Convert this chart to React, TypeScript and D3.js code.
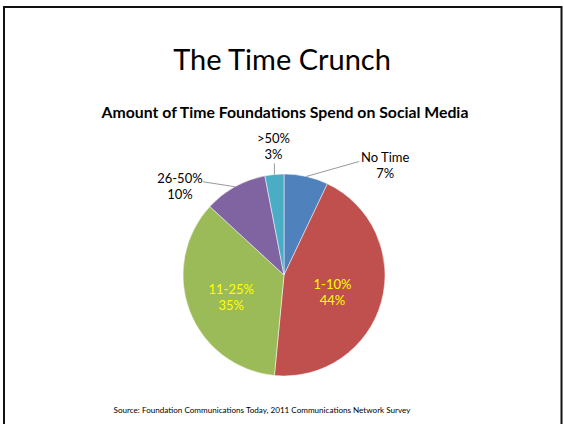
import React from "react";
import * as d3 from "d3";

const categories = ["No Time", "1-10%", "11-25%", "26-50%", ">50%"];
const values = [7, 44, 35, 10, 3];
const colors = ["#4F81BD", "#C0504D", "#9BBB59", "#8064A2", "#4BACC6"];
const insideLabels = ["1-10%", "11-25%"];

const W = 564;
const H = 424;
const CX = 284;
const CY = 275;
const R = 101;
const FONT = "Lato, 'Open Sans', sans-serif";

// label placement (relative to the slice edge point at mid angle)
const outsideLayout: Record<string, { ex: number; ey: number; tx: number; ty: number }> = {
  "No Time": { ex: 53, ey: -15, tx: 79, ty: -14.5 },
  "26-50%": { ex: -32, ey: -5, tx: -55, ty: -4 },
  ">50%": { ex: 0, ey: -11, tx: -1, ty: -31.5 },
};
const insideNudge: Record<string, number> = { "1-10%": -6, "11-25%": 0 };

export default function App() {
  const data = categories.map((c, i) => ({ cat: c, value: values[i], color: colors[i] }));
  const pie = d3
    .pie<any>()
    .sort(null)
    .value((d) => d.value)
    .startAngle(0)
    .endAngle(2 * Math.PI);
  const arcs = pie(data);
  const arc = d3.arc<any>().innerRadius(0).outerRadius(R);
  const innerArc = d3.arc<any>().innerRadius(R * 0.56).outerRadius(R * 0.56);
  const pct = (v: number) => `${v}%`;

  return (
    <svg
      width={W}
      height={H}
      style={{ position: "absolute", left: 0, top: 0, background: "#fff" }}
      fontFamily={FONT}
    >
      <rect x={0} y={0} width={W} height={H} fill="#fff" />
      <rect x={4} y={7} width={557.5} height={440} fill="none" stroke="#111" strokeWidth={2} />
      <text x={282} y={70} textAnchor="middle" fontSize={29} fill="#000">
        The Time Crunch
      </text>
      <text x={285} y={118} textAnchor="middle" fontSize={15.8} fontWeight="bold" fill="#000">
        Amount of Time Foundations Spend on Social Media
      </text>
      <g transform={`translate(${CX},${CY})`}>
        {arcs.map((a, i) => (
          <path key={i} d={arc(a) as string} fill={a.data.color} stroke="#fff" strokeWidth={0.5} />
        ))}
        {arcs.map((a, i) => {
          const cat = a.data.cat;
          const mid = (a.startAngle + a.endAngle) / 2;
          if (insideLabels.includes(cat)) {
            const [cx, y] = innerArc.centroid(a);
            const x = cx + (insideNudge[cat] || 0);
            return (
              <text key={"l" + i} textAnchor="middle" fontSize={13} fill="#FFFF00">
                <tspan x={x} y={y - 1}>{cat}</tspan>
                <tspan x={x} y={y + 15}>{pct(a.data.value)}</tspan>
              </text>
            );
          }
          const L = outsideLayout[cat];
          const px = R * Math.sin(mid);
          const py = -R * Math.cos(mid);
          return (
            <g key={"l" + i}>
              <polyline
                points={`${px},${py} ${px + L.ex},${py + L.ey}`}
                fill="none"
                stroke="#7f7f7f"
                strokeWidth={0.8}
              />
              <text textAnchor="middle" fontSize={13} fill="#000">
                <tspan x={px + L.tx} y={py + L.ty}>{cat}</tspan>
                <tspan x={px + L.tx} y={py + L.ty + 16}>{pct(a.data.value)}</tspan>
              </text>
            </g>
          );
        })}
      </g>
      <text x={262} y={413} textAnchor="middle" fontSize={8.1} fill="#000">
        Source: Foundation Communications Today, 2011 Communications Network Survey
      </text>
    </svg>
  );
}
